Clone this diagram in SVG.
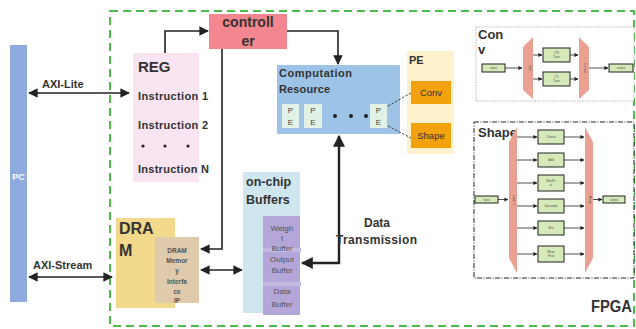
<svg xmlns="http://www.w3.org/2000/svg" width="636" height="329" viewBox="0 0 636 329">
  <defs>
    <marker id="ah" viewBox="0 0 10 10" refX="9" refY="5" markerWidth="5" markerHeight="5" orient="auto-start-reverse">
      <path d="M0,0 L10,5 L0,10 z" fill="#222"/>
    </marker>
    <marker id="ahs" viewBox="0 0 10 10" refX="9" refY="5" markerWidth="6" markerHeight="6" orient="auto-start-reverse">
      <path d="M0,0 L10,5 L0,10 z" fill="#222"/>
    </marker>
  </defs>
  <style>
    text { font-family: "Liberation Sans", Arial, sans-serif; fill: #333; }
    .b { font-weight: bold; }
    .wire { fill: none; stroke: #222; stroke-width: 1.6; }
    .thick { fill: none; stroke: #222; stroke-width: 2.4; }
    .mini { fill: #d6e9b8; stroke: #222; stroke-width: 1; }
    .tiny { font-size: 3px; fill: #555; text-anchor: middle; }
    .trap { fill: #eba191; }
    .mw { fill: none; stroke: #222; stroke-width: 0.8; }
    .pe { fill: #e1f1e6; }
    .pet { font-size: 8px; text-anchor: middle; fill: #444; }
    .buf { font-size: 8px; text-anchor: middle; fill: #555; }
    .ip { font-size: 6.5px; font-weight: bold; text-anchor: middle; fill: #555; }
  </style>

  <rect width="636" height="329" fill="#ffffff"/>

  <!-- FPGA boundary -->
  <g id="fpga">
    <rect x="110" y="11" width="524" height="315" fill="none" stroke="#4cbb4c" stroke-width="2" stroke-dasharray="8,5"/>
    <text x="591" y="312" class="b" font-size="16" textLength="41" lengthAdjust="spacingAndGlyphs">FPGA</text>
  </g>

  <!-- Host PC -->
  <g id="pc">
    <rect x="10" y="45" width="17" height="257" fill="#8faadc"/>
    <text x="18.5" y="180" class="b" font-size="9" text-anchor="middle" style="fill:#fff">PC</text>
  </g>

  <!-- Register file -->
  <g id="reg">
    <rect x="133" y="53" width="66" height="129" fill="#f8e5f1"/>
    <text x="138" y="72" class="b" font-size="15">REG</text>
    <text x="138" y="100" class="b" font-size="11" textLength="70">Instruction 1</text>
    <text x="138" y="129" class="b" font-size="11" textLength="70">Instruction 2</text>
    <circle cx="143" cy="146" r="1.6" fill="#222"/>
    <circle cx="165" cy="146" r="1.6" fill="#222"/>
    <circle cx="188" cy="146" r="1.6" fill="#222"/>
    <text x="138" y="173" class="b" font-size="11" textLength="71">Instruction N</text>
  </g>

  <!-- Controller -->
  <g id="controller">
    <rect x="209" y="14" width="78" height="35" fill="#f4868f"/>
    <text x="248" y="27" class="b" font-size="14" text-anchor="middle">controll</text>
    <text x="248" y="46" class="b" font-size="14" text-anchor="middle">er</text>
  </g>

  <!-- Computation resource -->
  <g id="computation">
    <rect x="277" y="65" width="123" height="69" fill="#9dc3e6"/>
    <text x="279" y="77" class="b" font-size="11" textLength="73">Computation</text>
    <text x="279" y="93" class="b" font-size="11" textLength="51">Resource</text>
    <rect x="282" y="104" width="17" height="24" class="pe"/>
    <text x="290.5" y="113" class="pet">P</text>
    <text x="290.5" y="125" class="pet">E</text>
    <rect x="304" y="104" width="18" height="24" class="pe"/>
    <text x="313" y="113" class="pet">P</text>
    <text x="313" y="125" class="pet">E</text>
    <circle cx="335" cy="116" r="2" fill="#222"/>
    <circle cx="351" cy="116" r="2" fill="#222"/>
    <circle cx="366" cy="116" r="2" fill="#222"/>
    <rect x="370" y="104" width="17" height="24" class="pe"/>
    <text x="378.5" y="113" class="pet">P</text>
    <text x="378.5" y="125" class="pet">E</text>
  </g>

  <!-- PE types -->
  <g id="pe-panel">
    <rect x="407" y="51" width="47" height="103" fill="#fdf2cc"/>
    <text x="409" y="64" class="b" font-size="11">PE</text>
    <rect x="411" y="81" width="40" height="23" fill="#f2a20c"/>
    <text x="431" y="96" font-size="9.5" text-anchor="middle">Conv</text>
    <rect x="411" y="123" width="40" height="25" fill="#f2a20c"/>
    <text x="431" y="139" font-size="9.5" text-anchor="middle">Shape</text>
  </g>

  <!-- DRAM -->
  <g id="dram">
    <rect x="116" y="218" width="59" height="90" fill="#f2d98b"/>
    <text x="119" y="234" class="b" font-size="16">DRA</text>
    <text x="119" y="256" class="b" font-size="16">M</text>
  </g>

  <g id="dram-if">
    <rect x="155" y="237" width="44" height="66" fill="#dfcbab"/>
    <text x="177" y="253" class="ip">DRAM</text>
    <text x="177" y="263" class="ip">Memor</text>
    <text x="177" y="273" class="ip">y</text>
    <text x="177" y="284" class="ip">Interfa</text>
    <text x="177" y="294" class="ip">ce</text>
    <text x="177" y="303" class="ip">IP</text>
  </g>

  <!-- On-chip buffers -->
  <g id="buffers">
    <rect x="243" y="172" width="57" height="141" fill="#cfe6ef"/>
    <text x="246" y="186" class="b" font-size="12.5">on-chip</text>
    <text x="246" y="204" class="b" font-size="12.5">Buffers</text>
    <rect x="263" y="216" width="37" height="99" fill="#b4a6d8"/>
    <rect x="263" y="248" width="38" height="4" fill="#c4b9e0"/>
    <rect x="263" y="282" width="38" height="4" fill="#c4b9e0"/>
    <text x="282" y="231" class="buf">Weigh</text>
    <text x="282" y="241" class="buf">t</text>
    <text x="282" y="251" class="buf">Buffer</text>
    <text x="282" y="261.5" class="buf">Output</text>
    <text x="282" y="273" class="buf">Buffer</text>
    <text x="282" y="294" class="buf">Data</text>
    <text x="282" y="307" class="buf">Buffer</text>
  </g>

  <!-- Conv PE detail -->
  <g id="conv-detail">
    <rect x="476" y="27" width="158" height="74" fill="#fff" stroke="#aaa" stroke-width="0.8" stroke-dasharray="1.5,1"/>
    <text x="478" y="39" class="b" font-size="13">Con</text>
    <text x="478" y="54" class="b" font-size="13">v</text>
    <rect x="482" y="64" width="23" height="8" class="mini"/>
    <text x="493.5" y="69.2" class="tiny">input</text>
    <polygon points="523,47 533,37 533,99 523,90" class="trap"/>
    <text transform="translate(528.5,68) rotate(90)" class="tiny">Split</text>
    <rect x="543" y="48" width="27" height="14" class="mini"/>
    <text x="556.5" y="54" class="tiny">3*3</text>
    <text x="556.5" y="58" class="tiny">Conv</text>
    <rect x="543" y="72" width="27" height="14" class="mini"/>
    <text x="556.5" y="78" class="tiny">1*1</text>
    <text x="556.5" y="82" class="tiny">Conv</text>
    <polygon points="579,37 589,47 589,90 579,99" class="trap"/>
    <text transform="translate(584,68) rotate(90)" class="tiny">Concat</text>
    <rect x="609" y="64" width="24" height="8" class="mini"/>
    <text x="621" y="69.2" class="tiny">output</text>
    <path d="M505,68 H522" class="mw" marker-end="url(#ah)"/>
    <path d="M533,55 H542" class="mw" marker-end="url(#ah)"/>
    <path d="M533,79 H542" class="mw" marker-end="url(#ah)"/>
    <path d="M570,55 H578" class="mw" marker-end="url(#ah)"/>
    <path d="M570,79 H578" class="mw" marker-end="url(#ah)"/>
    <path d="M589,68 H608" class="mw" marker-end="url(#ah)"/>
  </g>

  <!-- Shape PE detail -->
  <g id="shape-detail">
    <rect x="474" y="122" width="160" height="156" fill="#fff" stroke="#222" stroke-width="1" stroke-dasharray="5,1.5,1,1.5"/>
    <text x="478" y="137" class="b" font-size="13">Shape</text>
    <rect x="475" y="196" width="23" height="7" class="mini"/>
    <text x="486.5" y="200.5" class="tiny">input</text>
    <polygon points="509,142 517,127 517,273 509,258" class="trap"/>
    <text transform="translate(513,200) rotate(90)" class="tiny">Layer 1</text>
    <polygon points="585,127 593,142 593,258 585,273" class="trap"/>
    <text transform="translate(589,200) rotate(90)" class="tiny">Merge</text>
    <rect x="603" y="196" width="22" height="7" class="mini"/>
    <text x="614" y="200.5" class="tiny">output</text>
    <path d="M498,199.5 H508" class="mw" marker-end="url(#ah)"/>
    <path d="M593,199.5 H602" class="mw" marker-end="url(#ah)"/>

    <rect x="538" y="130" width="26" height="14" class="mini"/>
    <text x="551" y="138" class="tiny">Concat</text>
    <rect x="538" y="153" width="26" height="14" class="mini"/>
    <text x="551" y="161" class="tiny">Add</text>
    <rect x="538" y="175" width="26" height="16" class="mini"/>
    <text x="551" y="182" class="tiny">MaxPo</text>
    <text x="551" y="186" class="tiny">ol</text>
    <rect x="538" y="199" width="26" height="14" class="mini"/>
    <text x="551" y="207" class="tiny">Upsample</text>
    <rect x="538" y="221" width="26" height="14" class="mini"/>
    <text x="551" y="229" class="tiny">Mul</text>
    <rect x="538" y="246" width="26" height="16" class="mini"/>
    <text x="551" y="253" class="tiny">Mean</text>
    <text x="551" y="257" class="tiny">Pool</text>

    <!-- fan-out and fan-in arrows -->
    <g class="mw">
      <path d="M517,137 H537" marker-end="url(#ah)"/>
      <path d="M517,160 H537" marker-end="url(#ah)"/>
      <path d="M517,183 H537" marker-end="url(#ah)"/>
      <path d="M517,206 H537" marker-end="url(#ah)"/>
      <path d="M517,228 H537" marker-end="url(#ah)"/>
      <path d="M517,254 H537" marker-end="url(#ah)"/>
      <path d="M564,137 H584" marker-end="url(#ah)"/>
      <path d="M564,160 H584" marker-end="url(#ah)"/>
      <path d="M564,183 H584" marker-end="url(#ah)"/>
      <path d="M564,206 H584" marker-end="url(#ah)"/>
      <path d="M564,228 H584" marker-end="url(#ah)"/>
      <path d="M564,254 H584" marker-end="url(#ah)"/>
    </g>
  </g>

  <!-- Connectors -->
  <g id="connectors">
    <path d="M29,93 H129" class="wire" marker-start="url(#ahs)" marker-end="url(#ahs)"/>
    <text x="42" y="88" class="b" font-size="11">AXI-Lite</text>
    <path d="M29,277 H112" class="wire" marker-start="url(#ahs)" marker-end="url(#ahs)"/>
    <text x="33" y="269" class="b" font-size="11">AXI-Stream</text>
    <path d="M165,53 V31 H208" class="wire" marker-end="url(#ahs)"/>
    <path d="M287,31 H338 V64" class="wire" marker-end="url(#ahs)"/>
    <path d="M222,49 V249 H201" class="wire" marker-end="url(#ahs)"/>
    <path d="M201,270 H242" class="wire" marker-start="url(#ahs)" marker-end="url(#ahs)"/>
    <path d="M339,136 V263 H302" class="thick" marker-start="url(#ah)" marker-end="url(#ah)"/>
    <path d="M388,106 L411,93" fill="none" stroke="#444" stroke-width="1" stroke-dasharray="2.5,1.5"/>
    <path d="M388,126 L411,138" fill="none" stroke="#444" stroke-width="1" stroke-dasharray="2.5,1.5"/>
    <text x="377" y="227" class="b" font-size="12" text-anchor="middle">Data</text>
    <text x="336" y="244" class="b" font-size="12" textLength="81">Transmission</text>
  </g>
</svg>
